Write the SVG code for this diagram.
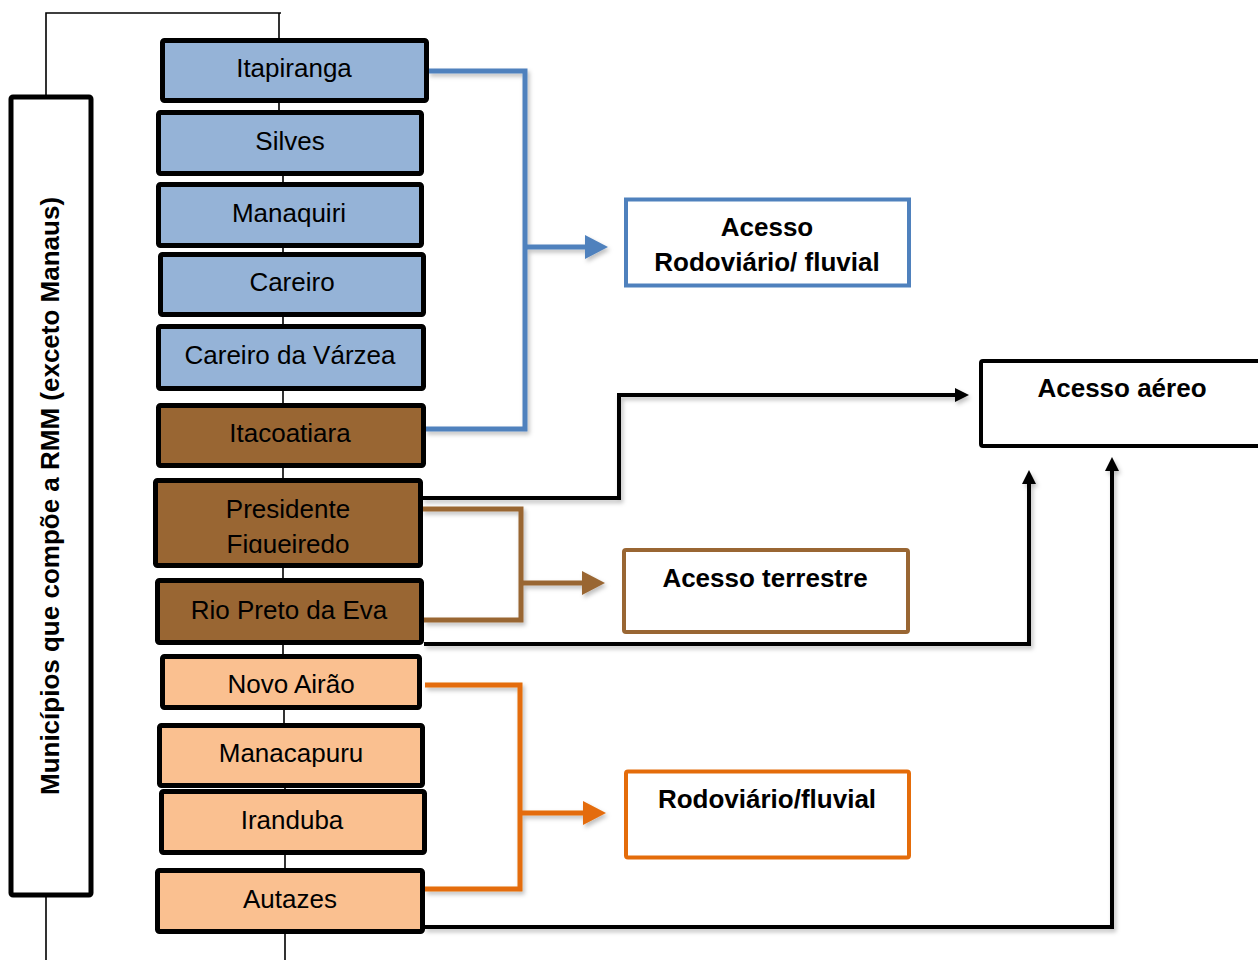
<svg xmlns="http://www.w3.org/2000/svg" width="1258" height="960" viewBox="0 0 1258 960">
<style>
.node rect{stroke:#000;stroke-width:5}
.blue rect{fill:#95B3D7}
.brown rect{fill:#996633}
.peach rect{fill:#FAC090}
.lbl{font-family:"Liberation Sans",Arial,sans-serif;font-size:26px;fill:#000;text-anchor:middle}
.bl{font-family:"Liberation Sans",Arial,sans-serif;font-size:26px;font-weight:bold;fill:#000;text-anchor:middle}
.thin{fill:none;stroke:#000;stroke-width:1.6}
.conn{fill:none;stroke-linejoin:miter}
</style>
<defs>
<filter id="sh" x="-10%" y="-10%" width="130%" height="130%">
<feDropShadow dx="2" dy="3" stdDeviation="2" flood-color="#000" flood-opacity="0.25"/>
</filter>
<clipPath id="pfclip"><rect x="150" y="478" width="280" height="75"/></clipPath>
</defs>
<rect width="1258" height="960" fill="#fff"/>

<g id="tree-lines">
<path class="thin" d="M46,95 V13 H281 M279,13 V40"/>
<path class="thin" d="M279,102 V112 M283,175 V184 M283,247 V254 M283,316 V327 M283,389 V405 M283,467 V481 M283,565 V581 M283,644 V657 M284,708 V726 M285,787 V792 M285,853 V871"/>
<path class="thin" d="M46,896 V960 M285,932 V960"/>
</g>

<g id="rmm">
<rect x="11" y="97" width="80" height="798" fill="#fff" stroke="#000" stroke-width="5" rx="2"/>
<text class="bl" transform="translate(59,496) rotate(-90)">Municípios que compõe a RMM (exceto Manaus)</text>
</g>

<g id="connectors" filter="url(#sh)">
<path class="conn" stroke="#4F81BD" stroke-width="5" d="M428,71 H525 V429 H425"/>
<path class="conn" stroke="#4F81BD" stroke-width="5" d="M525,247 H587"/>
<polygon fill="#4F81BD" points="585,235 608,247 585,259"/>

<path class="conn" stroke="#000" stroke-width="4" d="M422,498 H619 V395 H956"/>
<polygon fill="#000" points="955,388 969,395 955,402"/>

<path class="conn" stroke="#996633" stroke-width="5" d="M422,509 H521 V620 H424"/>
<path class="conn" stroke="#996633" stroke-width="5" d="M521,583 H584"/>
<polygon fill="#996633" points="582,571 605,583 582,595"/>

<path class="conn" stroke="#000" stroke-width="4" d="M424,644 H1029 V482"/>
<polygon fill="#000" points="1022,484 1029,470 1036,484"/>

<path class="conn" stroke="#E46C0A" stroke-width="5" d="M425,685 H520 V889 H425"/>
<path class="conn" stroke="#E46C0A" stroke-width="5" d="M520,813 H585"/>
<polygon fill="#E46C0A" points="583,801 606,813 583,825"/>

<path class="conn" stroke="#000" stroke-width="4" d="M424,927 H1112 V470"/>
<polygon fill="#000" points="1105,471 1112,457 1119,471"/>
</g>

<g id="itapiranga" class="node blue"><rect x="162.5" y="40.5" width="264" height="60" rx="2"/><text class="lbl" x="294" y="77">Itapiranga</text></g>
<g id="silves" class="node blue"><rect x="158.5" y="112.5" width="263" height="61" rx="2"/><text class="lbl" x="290" y="150">Silves</text></g>
<g id="manaquiri" class="node blue"><rect x="158.5" y="184.5" width="263" height="61" rx="2"/><text class="lbl" x="289" y="222">Manaquiri</text></g>
<g id="careiro" class="node blue"><rect x="160.5" y="254.5" width="263" height="60" rx="2"/><text class="lbl" x="292" y="291">Careiro</text></g>
<g id="careiro-varzea" class="node blue"><rect x="158.5" y="326.5" width="265" height="62" rx="2"/><text class="lbl" x="290" y="364">Careiro da Várzea</text></g>
<g id="itacoatiara" class="node brown"><rect x="158.5" y="405.5" width="265" height="60" rx="2"/><text class="lbl" x="290" y="442">Itacoatiara</text></g>
<g id="presidente-figueiredo" class="node brown"><rect x="155.5" y="480.5" width="265" height="85" rx="2"/><g clip-path="url(#pfclip)"><text class="lbl" x="288" y="518">Presidente</text><text class="lbl" x="288" y="553">Figueiredo</text></g></g>
<g id="rio-preto" class="node brown"><rect x="157.5" y="580.5" width="264" height="62" rx="2"/><text class="lbl" x="289" y="619">Rio Preto da Eva</text></g>
<g id="novo-airao" class="node peach"><rect x="162.5" y="656.5" width="257" height="51" rx="2"/><text class="lbl" x="291" y="693">Novo Airão</text></g>
<g id="manacapuru" class="node peach"><rect x="159.5" y="725.5" width="263" height="60" rx="2"/><text class="lbl" x="291" y="762">Manacapuru</text></g>
<g id="iranduba" class="node peach"><rect x="161.5" y="791.5" width="263" height="61" rx="2"/><text class="lbl" x="292" y="829">Iranduba</text></g>
<g id="autazes" class="node peach"><rect x="157.5" y="870.5" width="265" height="61" rx="2"/><text class="lbl" x="290" y="908">Autazes</text></g>

<g id="acesso-rodoviario-fluvial"><rect x="626" y="199.5" width="283" height="86" fill="#fff" stroke="#4F81BD" stroke-width="4"/><text class="bl" x="767" y="236">Acesso</text><text class="bl" x="767" y="271">Rodoviário/ fluvial</text></g>
<g id="acesso-aereo"><rect x="981" y="361" width="290" height="85" fill="#fff" stroke="#000" stroke-width="4" rx="2"/><text class="bl" x="1122" y="397">Acesso aéreo</text></g>
<g id="acesso-terrestre"><rect x="624" y="550" width="284" height="82" fill="#fff" stroke="#996633" stroke-width="4" rx="2"/><text class="bl" x="765" y="587">Acesso terrestre</text></g>
<g id="rodoviario-fluvial"><rect x="626" y="771.5" width="283" height="86" fill="#fff" stroke="#E46C0A" stroke-width="4" rx="2"/><text class="bl" x="767" y="808">Rodoviário/fluvial</text></g>
</svg>
